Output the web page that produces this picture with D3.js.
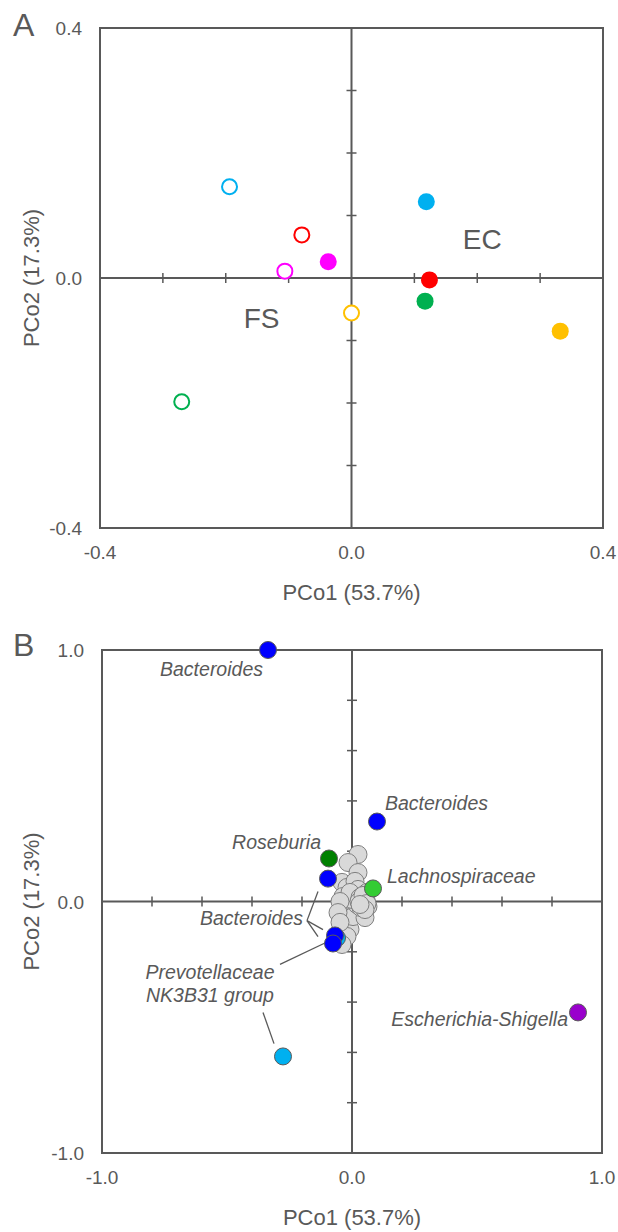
<!DOCTYPE html>
<html>
<head>
<meta charset="utf-8">
<script src="https://cdn.jsdelivr.net/npm/d3@7"></script>
<style>
  body { margin: 0; background: #fff; }
  text { font-family: Arial, "Liberation Sans", sans-serif; fill: #595959; }
</style>
</head>
<body>
<div id="my_dataviz"></div>
<script>
// ---- panel A data (samples) ----
var sampleX      = [-0.194, -0.079, -0.106, -0.037, 0.000, -0.270, 0.119, 0.124, 0.117, 0.332];
var sampleY      = [ 0.146,  0.069,  0.011,  0.026, -0.056, -0.198, 0.122, -0.003, -0.037, -0.085];
var sampleColor  = ["#00b0f0", "#ff0000", "#ff00ff", "#ff00ff", "#ffc000", "#00b050", "#00b0f0", "#ff0000", "#00b050", "#ffc000"];
var sampleFilled = [false, false, false, true, false, false, true, true, true, true];
var groupLabels  = ["EC", "FS"];
var groupX       = [0.208, -0.143];
var groupY       = [0.046, -0.080];

// ---- panel B data (taxa) ----
var greyX = [0.024, -0.016, 0.024, -0.040, -0.020, 0.012, 0.024, 0.040, 0.052, 0.044, 0.032, -0.036, -0.036, -0.036,
             -0.028, -0.008, -0.020, -0.040, 0.004, 0.020, 0.000, -0.008, 0.060, 0.064, 0.052, -0.048, -0.056, -0.048,
             0.032, 0.040, 0.048, 0.036, 0.056, 0.028, 0.044, 0.060, 0.052, 0.032];
var greyY = [0.187, 0.155, 0.115, 0.076, 0.056, 0.080, 0.048, 0.020, 0.000, -0.032, -0.052, 0.020, -0.024, -0.060,
             -0.091, -0.111, -0.139, -0.171, -0.060, -0.012, 0.008, 0.036, 0.036, -0.020, -0.064, 0.000, -0.044, -0.083,
             0.016, -0.004, -0.016, -0.024, 0.008, 0.000, 0.024, -0.008, -0.032, -0.012];
var taxaX     = [-0.060, -0.336, 0.100, -0.092, -0.096, 0.084, -0.068, -0.076, -0.276, 0.904];
var taxaY     = [-0.145, 1.000, 0.318, 0.171, 0.091, 0.052, -0.135, -0.167, -0.616, -0.441];
var taxaColor = ["#00b0f0", "#0000ff", "#0000ff", "#008000", "#0000ff", "#33cc33", "#0000ff", "#0000ff", "#00b0f0", "#9900cc"];

var taxaLabels  = ["Bacteroides", "Bacteroides", "Roseburia", "Lachnospiraceae", "Bacteroides", "Prevotellaceae", "NK3B31 group", "Escherichia-Shigella"];
var taxaLabelX  = [-0.356, 0.132, -0.124, 0.140, -0.196, -0.568, -0.568, 0.864];
var taxaLabelY  = [0.895, 0.362, 0.207, 0.072, -0.095, -0.310, -0.398, -0.497];
var taxaAnchor  = ["end", "start", "end", "start", "end", "middle", "middle", "end"];
// leader lines [x1, y1, x2, y2]
var leaders = [
  [-0.180, -0.076, -0.136, 0.040],
  [-0.180, -0.076, -0.116, -0.112],
  [-0.180, -0.076, -0.136, -0.140],
  [-0.288, -0.250, -0.104, -0.163],
  [-0.356, -0.441, -0.312, -0.565]
];

var axisColor = "#595959";
var fmt = function(d) { return d3.format(".1f")(d).replace("\u2212", "-"); };

var svg = d3.select("#my_dataviz")
  .append("svg")
    .attr("width", 618)
    .attr("height", 1232);

// draws frame, zero axes with cross ticks, tick labels and titles
function drawFrame(g, x, y, ticks, ends, letter, letterY) {
  var x0 = x.range()[0], x1 = x.range()[1], y0 = y.range()[1], y1 = y.range()[0];
  g.append("rect")
    .attr("x", x0).attr("y", y0)
    .attr("width", x1 - x0).attr("height", y1 - y0)
    .attr("fill", "none").attr("stroke", axisColor).attr("stroke-width", 2);
  g.append("line")
    .attr("x1", x0).attr("x2", x1).attr("y1", y(0)).attr("y2", y(0))
    .attr("stroke", axisColor).attr("stroke-width", 2);
  g.append("line")
    .attr("x1", x(0)).attr("x2", x(0)).attr("y1", y0).attr("y2", y1)
    .attr("stroke", axisColor).attr("stroke-width", 2);

  g.selectAll(".xt").data(ticks).enter().append("line")
    .attr("x1", function(d) { return x(d); }).attr("x2", function(d) { return x(d); })
    .attr("y1", y(0) - 5).attr("y2", y(0) + 5)
    .attr("stroke", axisColor).attr("stroke-width", 1.5);
  g.selectAll(".yt").data(ticks).enter().append("line")
    .attr("y1", function(d) { return y(d); }).attr("y2", function(d) { return y(d); })
    .attr("x1", x(0) - 5).attr("x2", x(0) + 5)
    .attr("stroke", axisColor).attr("stroke-width", 1.5);

  g.selectAll(".xl").data(ends).enter().append("text")
    .attr("x", function(d) { return x(d); })
    .attr("y", y1 + 31)
    .attr("text-anchor", "middle")
    .style("font-size", "19px")
    .text(fmt);
  g.selectAll(".yl").data(ends).enter().append("text")
    .attr("x", x0 - 18)
    .attr("y", function(d) { return y(d) + 7; })
    .attr("text-anchor", "end")
    .style("font-size", "19px")
    .text(fmt);

  g.append("text")
    .attr("x", x(0)).attr("y", y1 + 72)
    .attr("text-anchor", "middle")
    .style("font-size", "22px")
    .text("PCo1 (53.7%)");
  g.append("text")
    .attr("transform", "translate(39," + y(0) + ") rotate(-90)")
    .attr("text-anchor", "middle")
    .style("font-size", "22px")
    .text("PCo2 (17.3%)");
  g.append("text")
    .attr("x", 13).attr("y", letterY)
    .style("font-size", "32px")
    .text(letter);
}

// ---------- Panel A ----------
var xA = d3.scaleLinear().domain([-0.4, 0.4]).range([100, 603]);
var yA = d3.scaleLinear().domain([-0.4, 0.4]).range([528, 28]);
var gA = svg.append("g");
drawFrame(gA, xA, yA, [-0.3, -0.2, -0.1, 0.1, 0.2, 0.3], [-0.4, 0, 0.4], "A", 36);

gA.selectAll(".grp").data(groupLabels).enter().append("text")
  .attr("x", function(d, i) { return xA(groupX[i]); })
  .attr("y", function(d, i) { return yA(groupY[i]); })
  .attr("text-anchor", "middle")
  .style("font-size", "28px")
  .text(function(d) { return d; });

gA.selectAll(".pt").data(sampleX).enter().append("circle")
  .attr("cx", function(d) { return xA(d); })
  .attr("cy", function(d, i) { return yA(sampleY[i]); })
  .attr("r", function(d, i) { return sampleFilled[i] ? 8.5 : 7.5; })
  .attr("fill", function(d, i) { return sampleFilled[i] ? sampleColor[i] : "#fff"; })
  .attr("stroke", function(d, i) { return sampleFilled[i] ? "none" : sampleColor[i]; })
  .attr("stroke-width", 2);

// ---------- Panel B ----------
var xB = d3.scaleLinear().domain([-1, 1]).range([102, 602]);
var yB = d3.scaleLinear().domain([-1, 1]).range([1153, 650]);
var gB = svg.append("g");
drawFrame(gB, xB, yB, [-0.8, -0.6, -0.4, -0.2, 0.2, 0.4, 0.6, 0.8], [-1, 0, 1], "B", 656);

gB.selectAll(".ld").data(leaders).enter().append("line")
  .attr("x1", function(d) { return xB(d[0]); })
  .attr("y1", function(d) { return yB(d[1]); })
  .attr("x2", function(d) { return xB(d[2]); })
  .attr("y2", function(d) { return yB(d[3]); })
  .attr("stroke", axisColor).attr("stroke-width", 1.3);

gB.selectAll(".gp").data(greyX).enter().append("circle")
  .attr("cx", function(d) { return xB(d); })
  .attr("cy", function(d, i) { return yB(greyY[i]); })
  .attr("r", 9)
  .attr("fill", "#d9d9d9")
  .attr("stroke", "#7f7f7f")
  .attr("stroke-width", 1);

gB.selectAll(".tp").data(taxaX).enter().append("circle")
  .attr("cx", function(d) { return xB(d); })
  .attr("cy", function(d, i) { return yB(taxaY[i]); })
  .attr("r", 8.5)
  .attr("fill", function(d, i) { return taxaColor[i]; })
  .attr("stroke", "#595959")
  .attr("stroke-width", 1);

gB.selectAll(".tl").data(taxaLabels).enter().append("text")
  .attr("x", function(d, i) { return xB(taxaLabelX[i]); })
  .attr("y", function(d, i) { return yB(taxaLabelY[i]); })
  .attr("text-anchor", function(d, i) { return taxaAnchor[i]; })
  .style("font-size", "19.5px")
  .style("font-style", "italic")
  .text(function(d) { return d; });
</script>
</body>
</html>
